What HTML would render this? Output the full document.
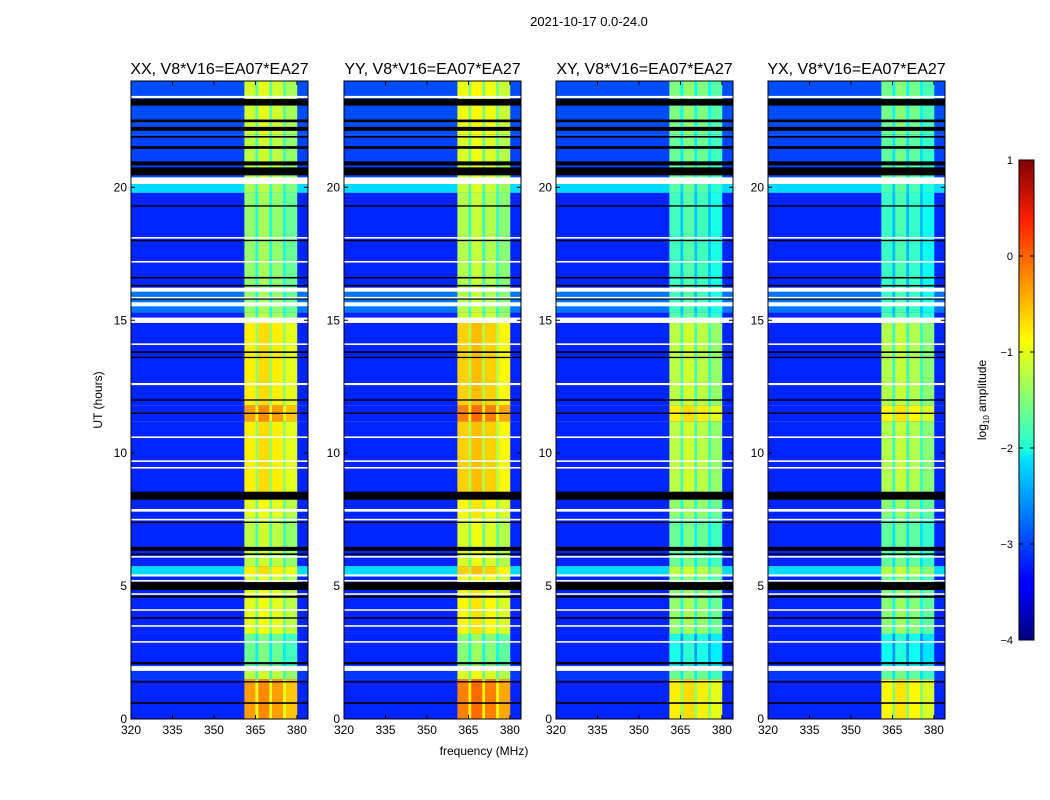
<!DOCTYPE html>
<html><head><meta charset="utf-8">
<style>
body{margin:0;background:#fff;}
svg{display:block;font-family:"Liberation Sans",sans-serif;}
</style></head>
<body>
<svg id="fig" width="1050" height="800" xmlns="http://www.w3.org/2000/svg">
<defs>
<linearGradient id="jet" x1="0" y1="1" x2="0" y2="0">
<stop offset="0" stop-color="#000080"/><stop offset="0.11" stop-color="#0000ff"/>
<stop offset="0.125" stop-color="#0000ff"/><stop offset="0.375" stop-color="#00e0ff"/>
<stop offset="0.4" stop-color="#1fffd8"/><stop offset="0.625" stop-color="#ffff00"/>
<stop offset="0.875" stop-color="#ff2000"/><stop offset="1" stop-color="#800000"/>
</linearGradient>
</defs>
<text x="589" y="26" font-size="13" text-anchor="middle">2021-10-17 0.0-24.0</text>
<text x="484" y="755" font-size="12" text-anchor="middle">frequency (MHz)</text>
<text x="0" y="0" font-size="12" text-anchor="middle" transform="translate(102,400) rotate(-90)">UT (hours)</text>
<g id="panels"></g>
<g>
<rect x="1019" y="160" width="15" height="480" fill="url(#jet)" stroke="#000" stroke-width="1"/>
<g id="cbticks"></g>
<text x="0" y="0" font-size="12" text-anchor="middle" transform="translate(986,400) rotate(-90)">log<tspan font-size="8" dy="3">10</tspan><tspan dy="-3"> amplitude</tspan></text>
</g>
</svg>
<script>
// ---- data ----
const panelTitles = ["XX, V8*V16=EA07*EA27","YY, V8*V16=EA07*EA27","XY, V8*V16=EA07*EA27","YX, V8*V16=EA07*EA27"];
const panelBandOffset = [0, 0.15, -0.4, -0.45];
const freqStart = 320, freqStep = 1;
// band shape per 1 MHz bin from 320..383 (null = outside band)
const bandShape = [null,null,null,null,null,null,null,null,null,null,
 null,null,null,null,null,null,null,null,null,null,
 null,null,null,null,null,null,null,null,null,null,
 null,null,null,null,null,null,null,null,null,null,
 null,0,0,0,0,-0.6,0.1,0.1,0.1,0.1,
 -0.6,0,0,0,0,-0.6,-0.2,-0.2,-0.2,-0.2,
 null,null,null,null];
// time segments: [startHour, endHour, background, band level]
const segments = [
 [0,1.5,-3.2,-0.4],[1.5,2.0,-3.1,-1.2],[2.0,3.2,-3.2,-1.6],[3.2,5.0,-3.2,-1.0],
 [5.0,5.4,-3.2,-1.1],[5.4,5.75,-2.3,-0.8],[5.75,7.6,-3.2,-1.2],[7.6,8.3,-3.2,-1.0],
 [8.3,11.2,-3.2,-0.8],[11.2,11.8,-3.2,-0.4],[11.8,14.9,-3.2,-0.8],[14.9,15.3,-3.2,-1.3],
 [15.3,16.1,-2.8,-1.4],[16.1,19.8,-3.2,-1.4],[19.8,20.2,-2.3,-1.3],[20.2,20.5,-3.0,-1.2],
 [20.5,22.0,-3.05,-1.2],[22.0,24.0,-3.0,-1.1]];
// flagged rows: [hour, thickness hours]
const whiteFlags = [[23.4,0.08],[20.25,0.25],[18.1,0.06],[17.2,0.06],[16.15,0.15],[15.85,0.06],[15.6,0.15],[15.0,0.2],[14.1,0.06],[12.6,0.08],[10.6,0.06],[9.7,0.06],[9.45,0.06],[8.5,0.08],[7.85,0.1],[7.5,0.06],[6.1,0.06],[5.4,0.08],[5.2,0.06],[4.7,0.06],[4.1,0.06],[3.5,0.06],[2.9,0.06],[1.9,0.18]];
const blackFlags = [[23.2,0.25],[22.5,0.1],[22.2,0.15],[21.9,0.06],[21.5,0.1],[20.9,0.15],[20.6,0.3],[19.3,0.05],[18.0,0.05],[16.6,0.06],[16.3,0.06],[15.8,0.04],[13.8,0.06],[13.6,0.05],[12.0,0.05],[11.5,0.05],[8.4,0.3],[7.4,0.05],[6.4,0.15],[6.2,0.06],[5.0,0.3],[4.6,0.08],[3.8,0.05],[2.1,0.08],[1.4,0.05],[0.6,0.06]];
const yTicks = [0,5,10,15,20];
const xTicks = [320,335,350,365,380];
const cbTicks = [1,0,-1,-2,-3,-4];
// ---- layout ----
const panelX = [131,344,556,768], panelW = 177, plotTop = 81, plotBottom = 719;
const fMin = 320, fMax = 384, hMin = 0, hMax = 24, vMin = -4, vMax = 1;
const NS = "http://www.w3.org/2000/svg";
function el(t,a,p){const e=document.createElementNS(NS,t);for(const k in a)e.setAttribute(k,a[k]);p.appendChild(e);return e;}
function yOf(h){return plotBottom-(h-hMin)/(hMax-hMin)*(plotBottom-plotTop);}
function jet(v){
  let t=Math.max(0,Math.min(1,(v-vMin)/(vMax-vMin)));
  const f=x=>Math.max(0,Math.min(1,1.5-Math.abs(4*t-x)));
  return `rgb(${Math.round(255*f(3))},${Math.round(255*f(2))},${Math.round(255*f(1))})`;
}
const panels=document.getElementById('panels');
panelTitles.forEach((title,pi)=>{
  const x0=panelX[pi];
  const xOf=f=>x0+(f-fMin)/(fMax-fMin)*panelW;
  const g=el('g',{},panels);
  
  
  const hm=el('g',{},g);
  
  
  segments.forEach(s=>{
    const y1=yOf(s[1]),y0=yOf(s[0]);
    const r=el('rect',{x:x0,y:y1,width:panelW,height:y0-y1,fill:jet(s[2])},hm);
    
    
    bandShape.forEach((b,ci)=>{
      if(b===null)return;
      const f=freqStart+ci*freqStep;
      const c=el('rect',{x:xOf(f),y:y1,width:xOf(f+freqStep)-xOf(f)+0.3,height:y0-y1,fill:jet(s[3]+b+panelBandOffset[pi])},hm);
      
      
    });
  });
  whiteFlags.forEach(w=>{
    const y=yOf(w[0]+w[1]/2);
    const r=el('rect',{x:x0,y:y,width:panelW,height:Math.max(1.5,w[1]*(plotBottom-plotTop)/24),fill:'#fff'},hm);
    
    
  });
  blackFlags.forEach(w=>{
    const y=yOf(w[0]+w[1]/2);
    const r=el('rect',{x:x0,y:y,width:panelW,height:Math.max(1.2,w[1]*(plotBottom-plotTop)/24),fill:'#000'},hm);
    
    
  });
  const fr=el('rect',{x:x0,y:plotTop,width:panelW,height:plotBottom-plotTop,fill:'none',stroke:'#000','stroke-width':1},g);
  
  
  const tt=el('text',{x:x0+panelW/2,y:plotTop-7,'font-size':16,'text-anchor':'middle'},g);
  tt.textContent=title;
  
  
  yTicks.forEach(h=>{
    const y=yOf(h);
    el('line',{x1:x0,x2:x0+4,y1:y,y2:y,stroke:'#000'},g);
    el('line',{x1:x0+panelW-4,x2:x0+panelW,y1:y,y2:y,stroke:'#000'},g);
    const t=el('text',{x:x0-4,y:y+4,'font-size':12,'text-anchor':'end'},g);
    t.textContent=h;
    
    
  });
  xTicks.forEach(f=>{
    const x=xOf(f);
    el('line',{x1:x,x2:x,y1:plotBottom,y2:plotBottom-4,stroke:'#000'},g);
    el('line',{x1:x,x2:x,y1:plotTop,y2:plotTop+4,stroke:'#000'},g);
    const t=el('text',{x:x,y:plotBottom+15,'font-size':12,'text-anchor':'middle'},g);
    t.textContent=f;
    
    
  });
});
const cb=document.getElementById('cbticks');
cbTicks.forEach(v=>{
  const y=640-(v-vMin)/(vMax-vMin)*480;
  el('line',{x1:1019,x2:1023,y1:y,y2:y,stroke:'#000'},cb);
  el('line',{x1:1030,x2:1034,y1:y,y2:y,stroke:'#000'},cb);
  const t=el('text',{x:1013,y:y+4,'font-size':11,'text-anchor':'end'},cb);
  t.textContent=v<0?'\u2212'+(-v):v;
  
  
});
</script>
</body></html>
